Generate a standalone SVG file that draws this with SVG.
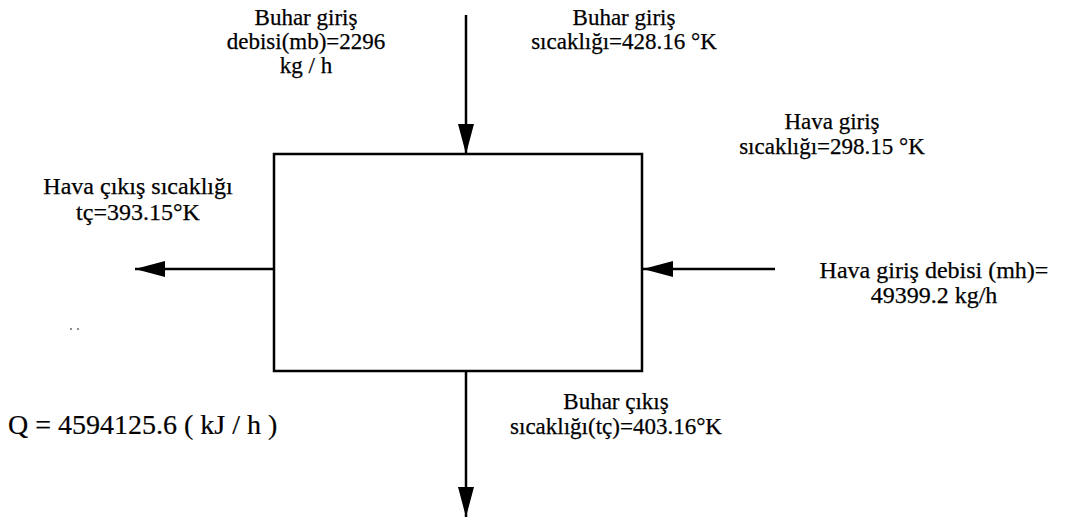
<svg xmlns="http://www.w3.org/2000/svg" width="1072" height="519" viewBox="0 0 1072 519">
<style>
text{font-family:"Liberation Serif","Times New Roman",serif;font-size:23px;fill:#000;text-anchor:middle;stroke:#000;stroke-width:0.25}
.q{font-size:28px;text-anchor:start;stroke-width:0.2}
.b{font-size:24px}
.ln{stroke:#000;stroke-width:2.5;fill:none}
</style>
<defs>
<marker id="ah2" markerWidth="30" markerHeight="16" refX="30" refY="8" orient="auto" markerUnits="userSpaceOnUse" viewBox="0 0 30 16"><path d="M0,0 L30,8 L0,16 z" fill="#000"/></marker>
</defs>
<rect width="1072" height="519" fill="#fff"/>
<g id="box"><rect x="274" y="154" width="368" height="217" class="ln"/></g>
<g id="connectors">
<line x1="466" y1="15" x2="466" y2="154" class="ln" marker-end="url(#ah2)"/>
<line x1="466" y1="371" x2="466" y2="517" class="ln" marker-end="url(#ah2)"/>
<line x1="274" y1="269" x2="135" y2="269" class="ln" marker-end="url(#ah2)"/>
<line x1="775" y1="269" x2="643" y2="269" class="ln" marker-end="url(#ah2)"/>
</g>
<g id="label-buhar-giris-debi">
<text x="306" y="25">Buhar giriş</text>
<text x="306" y="49">debisi(mb)=2296</text>
<text x="306" y="73">kg / h</text>
</g>
<g id="label-buhar-giris-sic">
<text x="624" y="25">Buhar giriş</text>
<text x="624" y="49">sıcaklığı=428.16 °K</text>
</g>
<g id="label-hava-giris-sic">
<text x="832" y="129">Hava giriş</text>
<text x="832" y="154">sıcaklığı=298.15 °K</text>
</g>
<g id="label-hava-cikis">
<text class="b" x="138" y="194">Hava çıkış sıcaklığı</text>
<text class="b" x="138" y="220">tç=393.15°K</text>
</g>
<g id="label-hava-giris-debi">
<text class="b" x="934" y="278">Hava giriş debisi (mh)=</text>
<text class="b" x="934" y="303">49399.2 kg/h</text>
</g>
<g id="label-buhar-cikis">
<text x="616" y="409">Buhar çıkış</text>
<text x="616" y="434">sıcaklığı(tç)=403.16°K</text>
</g>
<g id="label-q">
<text class="q" x="8" y="434">Q = 4594125.6 ( kJ / h )</text>
</g>
<g id="dots" fill="#555">
<circle cx="71" cy="329" r="0.9"/><circle cx="78" cy="329" r="0.9"/>
</g>
</svg>
